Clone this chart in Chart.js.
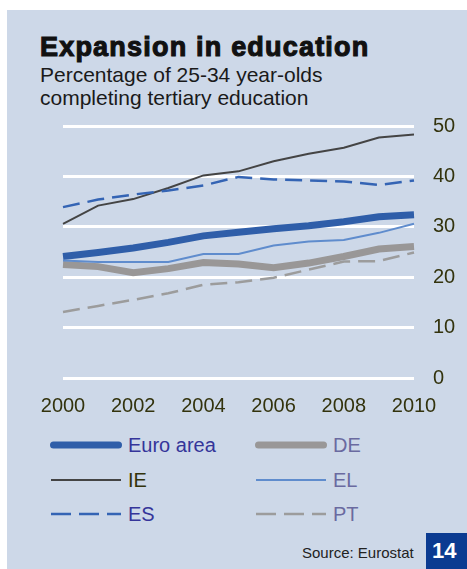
<!DOCTYPE html>
<html>
<head>
<meta charset="utf-8">
<script src="https://cdn.jsdelivr.net/npm/chart.js@4/dist/chart.umd.min.js"></script>
<style>
  html, body { margin: 0; padding: 0; background: #ffffff; }
  body { width: 467px; height: 569px; position: relative; overflow: hidden; font-family: "Liberation Sans", Arial, sans-serif; }
  #panel { position: absolute; left: 7px; top: 10px; width: 460px; height: 559px; background: #cdd8e8; }
  #title { position: absolute; left: 40px; top: 32px; font-size: 27px; font-weight: bold; color: #111; -webkit-text-stroke: 1.1px #111; letter-spacing: 1.2px; white-space: nowrap; }
  #subtitle { position: absolute; left: 40px; top: 63px; font-size: 21px; line-height: 23px; color: #1a1a1a; }
  #chartWrap { position: absolute; left: 0; top: 95px; width: 467px; height: 325px; }
  #legend { position: absolute; left: 0; top: 425px; width: 467px; height: 110px; }
  .item { position: absolute; height: 20px; font-size: 20px; line-height: 20px; white-space: nowrap; }
  .item svg { position: absolute; left: 0; top: 0; }
  .item span { position: absolute; left: 78px; top: 0; }
  #source { position: absolute; left: 302px; top: 544px; font-size: 15px; color: #222; }
  #page { position: absolute; left: 426px; top: 533px; width: 41px; height: 36px; background: #0b3b91; color: #fff; font-size: 22px; font-weight: bold; line-height: 36px; padding-left: 6px; box-sizing: border-box; }
</style>
</head>
<body>
<div id="panel"></div>
<div id="title">Expansion in education</div>
<div id="subtitle">Percentage of 25-34 year-olds<br>completing tertiary education</div>
<div id="chartWrap"><canvas id="chart" width="467" height="325"></canvas></div>
<div id="legend"></div>
<div id="source">Source: Eurostat</div>
<div id="page">14</div>
<script>
const years = ['2000','2001','2002','2003','2004','2005','2006','2007','2008','2009','2010'];
const yTicks = [0, 10, 20, 30, 40, 50];

const euroArea = [24.1, 24.9, 25.8, 26.9, 28.2, 28.9, 29.6, 30.2, 31.0, 32.0, 32.4];
const de = [22.5, 22.1, 20.9, 21.7, 22.9, 22.6, 21.9, 22.8, 24.1, 25.6, 26.1];
const ie = [30.6, 34.2, 35.5, 37.7, 40.2, 41.0, 43.0, 44.5, 45.7, 47.7, 48.3];
const el = [23.3, 23.0, 23.0, 23.0, 24.6, 24.6, 26.3, 27.1, 27.4, 28.8, 30.6];
const es = [33.9, 35.4, 36.4, 37.2, 38.2, 39.9, 39.4, 39.2, 39.0, 38.3, 39.2];
const pt = [13.1, 14.3, 15.5, 16.8, 18.5, 19.0, 19.9, 21.5, 23.1, 23.2, 24.9];

// line styles per series, also used for the legend swatches
const series = [
  { label: 'PT', data: pt, color: '#9c9c9c', width: 2.5, dash: [17, 8], text: '#6a6aa0', col: 1, row: 2 },
  { label: 'ES', data: es, color: '#3464b4', width: 2.5, dash: [17, 8], text: '#35359a', col: 0, row: 2 },
  { label: 'EL', data: el, color: '#5f8ccd', width: 2, dash: [], text: '#6a6aa0', col: 1, row: 1 },
  { label: 'IE', data: ie, color: '#444444', width: 2, dash: [], text: '#33330a', col: 0, row: 1 },
  { label: 'DE', data: de, color: '#999797', width: 7, dash: [], text: '#6a6aa0', col: 1, row: 0 },
  { label: 'Euro area', data: euroArea, color: '#2f5ea9', width: 7, dash: [], text: '#35359a', col: 0, row: 0 }
];

const tickColor = '#33330d';

new Chart(document.getElementById('chart'), {
  type: 'line',
  data: {
    labels: years,
    datasets: series.map(s => ({
      label: s.label,
      data: s.data,
      borderColor: s.color,
      borderWidth: s.width,
      borderDash: s.dash,
      borderCapStyle: 'butt',
      pointRadius: 0,
      tension: 0,
      fill: false
    }))
  },
  options: {
    responsive: false,
    animation: false,
    layout: { padding: { left: 63, right: 0, top: 16, bottom: 0 } },
    plugins: { legend: { display: false }, tooltip: { enabled: false } },
    scales: {
      x: {
        offset: false,
        grid: { display: false },
        border: { display: false },
        ticks: {
          autoSkip: false,
          maxRotation: 0,
          padding: 8,
          color: tickColor,
          font: { family: 'Liberation Sans', size: 20 },
          callback: (v, i) => (i % 2 === 0 ? years[i] : '')
        },
        afterFit: scale => { scale.height = 42; }
      },
      y: {
        position: 'right',
        min: 0,
        max: 50,
        afterBuildTicks: scale => { scale.ticks = yTicks.map(v => ({ value: v })); },
        grid: { color: '#ffffff', lineWidth: 3, drawTicks: false },
        border: { display: false },
        ticks: {
          padding: 19,
          color: tickColor,
          font: { family: 'Liberation Sans', size: 20 }
        },
        afterFit: scale => { scale.width = 53; }
      }
    }
  }
});

// legend: two columns, three rows
const legend = document.getElementById('legend');
const rowTop = [10, 45, 79];
const colLeft = [50, 255];
series.forEach(s => {
  const item = document.createElement('div');
  item.className = 'item';
  item.style.left = colLeft[s.col] + 'px';
  item.style.top = rowTop[s.row] + 'px';
  const cap = s.width > 4 ? 'round' : 'butt';
  const inset = s.width > 4 ? s.width / 2 : 1;
  item.innerHTML =
    '<svg width="74" height="20"><line x1="' + inset + '" y1="10" x2="' + (72 - inset) + '" y2="10" stroke="' + s.color +
    '" stroke-width="' + s.width + '" stroke-linecap="' + cap + '"' +
    (s.dash.length ? ' stroke-dasharray="20 8"' : '') + '/></svg>' +
    '<span style="color:' + s.text + '">' + s.label + '</span>';
  legend.appendChild(item);
});
</script>
</body>
</html>
